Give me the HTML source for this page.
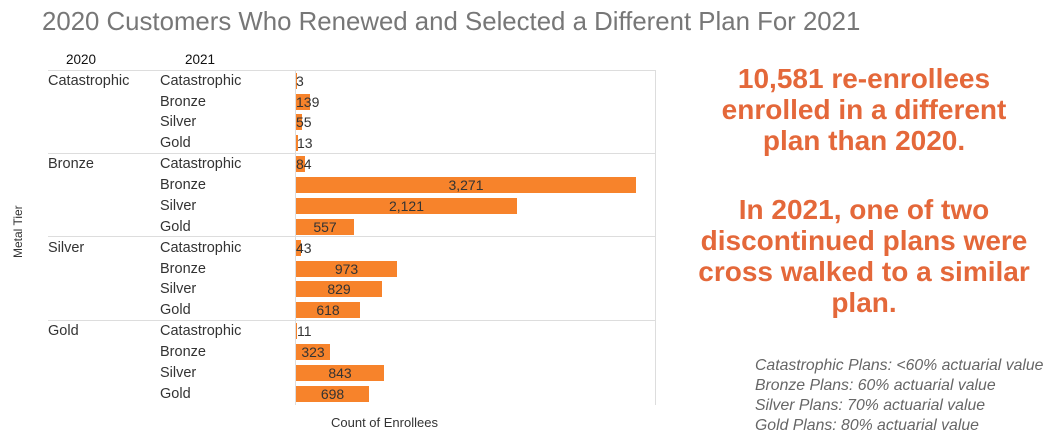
<!DOCTYPE html>
<html><head><meta charset="utf-8"><style>
body{margin:0;width:1052px;height:443px;background:#fff;position:relative;overflow:hidden;font-family:"Liberation Sans",Arial,sans-serif;}
.a{position:absolute;white-space:nowrap;}
.t{font-size:14.5px;color:#333;line-height:16px;}
.bar{position:absolute;height:16px;background:#f7832b;}
.v{position:absolute;font-size:14px;color:#333;line-height:16px;}
.big{position:absolute;left:676px;width:376px;text-align:center;color:#e4683a;font-weight:bold;font-size:28px;line-height:31px;}
.leg{position:absolute;left:755px;font-style:italic;color:#666;font-size:15.8px;line-height:20px;}
</style></head><body>
<div class="a" style="left:42px;top:8px;font-size:25.8px;color:#777;">2020 Customers Who Renewed and Selected a Different Plan For 2021</div>
<div class="a t" style="left:66px;top:52px;color:#111;font-size:13.5px">2020</div>
<div class="a t" style="left:185px;top:52px;color:#111;font-size:13.5px">2021</div>
<div class="a" style="left:11px;top:258px;transform:rotate(-90deg);transform-origin:0 0;font-size:12px;color:#333;">Metal Tier</div>
<div class="a" style="left:48px;top:70px;width:608px;height:1px;background:#ddd"></div>
<div class="a" style="left:48px;top:153px;width:608px;height:1px;background:#ddd"></div>
<div class="a" style="left:48px;top:236px;width:608px;height:1px;background:#ddd"></div>
<div class="a" style="left:48px;top:320px;width:608px;height:1px;background:#ddd"></div>
<div class="a" style="left:295px;top:70px;width:1px;height:335px;background:#ddd"></div>
<div class="a" style="left:655px;top:70px;width:1px;height:335px;background:#ddd"></div>
<div class="a t" style="left:48px;top:73px">Catastrophic</div>
<div class="a t" style="left:48px;top:156px">Bronze</div>
<div class="a t" style="left:48px;top:240px">Silver</div>
<div class="a t" style="left:48px;top:323px">Gold</div>
<div class="a" style="left:331px;top:415px;font-size:13px;color:#333">Count of Enrollees</div>
<div class="big" style="top:63px">10,581 re-enrollees<br>enrolled in a different<br>plan than 2020.</div>
<div class="big" style="top:194px">In 2021, one of two<br>discontinued plans were<br>cross walked to a similar<br>plan.</div>
<div class="leg" style="top:356px">Catastrophic Plans: &lt;60% actuarial value<br>Bronze Plans: 60% actuarial value<br>Silver Plans: 70% actuarial value<br>Gold Plans: 80% actuarial value</div>
<div class="a t" style="left:160px;top:73px">Catastrophic</div>
<div class="a t" style="left:160px;top:94px">Bronze</div>
<div class="a t" style="left:160px;top:114px">Silver</div>
<div class="a t" style="left:160px;top:135px">Gold</div>
<div class="a t" style="left:160px;top:156px">Catastrophic</div>
<div class="a t" style="left:160px;top:177px">Bronze</div>
<div class="a t" style="left:160px;top:198px">Silver</div>
<div class="a t" style="left:160px;top:219px">Gold</div>
<div class="a t" style="left:160px;top:240px">Catastrophic</div>
<div class="a t" style="left:160px;top:261px">Bronze</div>
<div class="a t" style="left:160px;top:281px">Silver</div>
<div class="a t" style="left:160px;top:302px">Gold</div>
<div class="a t" style="left:160px;top:323px">Catastrophic</div>
<div class="a t" style="left:160px;top:344px">Bronze</div>
<div class="a t" style="left:160px;top:365px">Silver</div>
<div class="a t" style="left:160px;top:386px">Gold</div>

<div class="bar" style="left:296px;top:73px;width:0.3px"></div><div class="v" style="left:296px;top:73px">3</div>
<div class="bar" style="left:296px;top:94px;width:14px"></div><div class="v" style="left:296px;top:94px">139</div>
<div class="bar" style="left:296px;top:114px;width:6px"></div><div class="v" style="left:296px;top:114px">55</div>
<div class="bar" style="left:296px;top:135px;width:1.5px"></div><div class="v" style="left:297px;top:135px">13</div>
<div class="bar" style="left:296px;top:156px;width:9px"></div><div class="v" style="left:296px;top:156px">84</div>
<div class="bar" style="left:296px;top:177px;width:340px"></div><div class="v" style="left:296px;top:177px;width:340px;text-align:center">3,271</div>
<div class="bar" style="left:296px;top:198px;width:221px"></div><div class="v" style="left:296px;top:198px;width:221px;text-align:center">2,121</div>
<div class="bar" style="left:296px;top:219px;width:58px"></div><div class="v" style="left:296px;top:219px;width:58px;text-align:center">557</div>
<div class="bar" style="left:296px;top:240px;width:4.5px"></div><div class="v" style="left:296px;top:240px">43</div>
<div class="bar" style="left:296px;top:261px;width:101px"></div><div class="v" style="left:296px;top:261px;width:101px;text-align:center">973</div>
<div class="bar" style="left:296px;top:281px;width:86px"></div><div class="v" style="left:296px;top:281px;width:86px;text-align:center">829</div>
<div class="bar" style="left:296px;top:302px;width:64px"></div><div class="v" style="left:296px;top:302px;width:64px;text-align:center">618</div>
<div class="bar" style="left:296px;top:323px;width:1px"></div><div class="v" style="left:297px;top:323px">11</div>
<div class="bar" style="left:296px;top:344px;width:34px"></div><div class="v" style="left:296px;top:344px;width:34px;text-align:center">323</div>
<div class="bar" style="left:296px;top:365px;width:88px"></div><div class="v" style="left:296px;top:365px;width:88px;text-align:center">843</div>
<div class="bar" style="left:296px;top:386px;width:73px"></div><div class="v" style="left:296px;top:386px;width:73px;text-align:center">698</div>
</body></html>
